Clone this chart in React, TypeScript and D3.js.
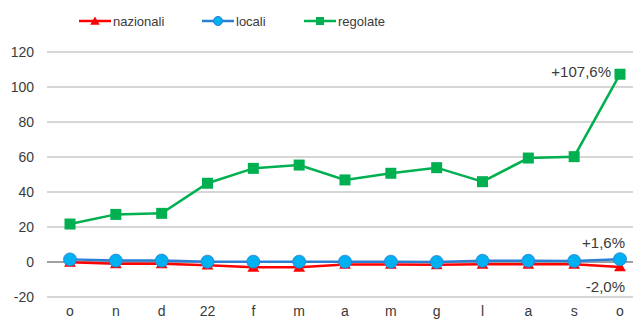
import React from "react";
import * as d3 from "d3";

const categories = ["o", "n", "d", "22", "f", "m", "a", "m", "g", "l", "a", "s", "o"];
const nazionali = [-0.2, -1, -1, -1.8, -3, -3, -1.4, -1.4, -1.6, -1.3, -1.3, -1.3, -2.8];
const locali = [1.5, 0.8, 0.8, 0.2, 0.2, 0.2, 0.2, 0.2, 0, 0.7, 0.7, 0.6, 1.6];
const regolate = [21.7, 27.2, 27.8, 45, 53.5, 55.4, 46.9, 50.7, 53.9, 45.9, 59.4, 60.2, 107.3];
const yTicks = [-20, 0, 20, 40, 60, 80, 100, 120];
const endLabels = { regolate: "+107,6%", locali: "+1,6%", nazionali: "-2,0%" };

const W = 633;
const H = 320;
const font = "'Liberation Sans', Arial, sans-serif";
const textColor = "#3a3a3a";

export default function App() {
  const x = d3.scalePoint<number>().domain(d3.range(categories.length)).range([70, 620]);
  const y = d3.scaleLinear().domain([-20, 120]).range([297, 52]);
  const line = d3
    .line<number>()
    .x((_, i) => x(i)!)
    .y((d) => y(d));

  const tri = d3.symbol().type(d3.symbolTriangle).size(60)()!;
  const triSmall = d3.symbol().type(d3.symbolTriangle).size(40)()!;

  const series = [
    { name: "nazionali", data: nazionali, color: "#ff0000", marker: "tri" },
    { name: "locali", data: locali, color: "#2a7fd4", fill: "#00b0f0", marker: "circle" },
    { name: "regolate", data: regolate, color: "#00b050", marker: "square" },
  ];

  const legendX = [79, 202, 304];

  const drawMarker = (s: any, cx: number, cy: number, key: string, small = false) => {
    if (s.marker === "tri")
      return <path key={key} d={small ? triSmall : tri} transform={`translate(${cx},${cy + 1})`} fill={s.color} />;
    if (s.marker === "circle")
      return <circle key={key} cx={cx} cy={cy} r={small ? 4.5 : 6.5} fill={s.fill} stroke={s.color} strokeWidth={small ? 1 : 0.8} />;
    const sz = small ? 8 : 11;
    return <rect key={key} x={cx - sz / 2} y={cy - sz / 2} width={sz} height={sz} fill={s.color} />;
  };

  return (
    <svg width={W} height={H} style={{ position: "absolute", left: 0, top: 0, background: "#fff" }}>
      {yTicks.map((t) => (
        <g key={t}>
          <line x1={47} x2={633} y1={y(t)} y2={y(t)} stroke={t === 0 ? "#808080" : "#c8c8c8"} strokeWidth={1.6} />
          <text x={34} y={y(t)} dy="0.35em" textAnchor="end" fontFamily={font} fontSize={14} fill={textColor}>
            {t}
          </text>
        </g>
      ))}
      {categories.map((c, i) => (
        <text key={i} x={x(i)!} y={316} textAnchor="middle" fontFamily={font} fontSize={14} fill={textColor}>
          {c}
        </text>
      ))}
      {series.map((s) => (
        <g key={s.name}>
          <path d={line(s.data)!} fill="none" stroke={s.color} strokeWidth={2.5} />
          {s.data.map((v, i) => drawMarker(s, x(i)!, y(v), s.name + i))}
        </g>
      ))}
      <text x={611} y={77} textAnchor="end" fontFamily={font} fontSize={15} fill={textColor}>
        {endLabels.regolate}
      </text>
      <text x={625} y={248} textAnchor="end" fontFamily={font} fontSize={15} fill={textColor}>
        {endLabels.locali}
      </text>
      <text x={625} y={292} textAnchor="end" fontFamily={font} fontSize={15} fill={textColor}>
        {endLabels.nazionali}
      </text>
      {series.map((s, i) => (
        <g key={"leg" + s.name}>
          <line x1={legendX[i]} x2={legendX[i] + 32} y1={21} y2={21} stroke={s.color} strokeWidth={2.5} />
          {drawMarker(s, legendX[i] + 16, 21, "lm" + i, true)}
          <text x={legendX[i] + 34} y={21} dy="0.35em" fontFamily={font} fontSize={13} fill={textColor}>
            {s.name}
          </text>
        </g>
      ))}
    </svg>
  );
}
